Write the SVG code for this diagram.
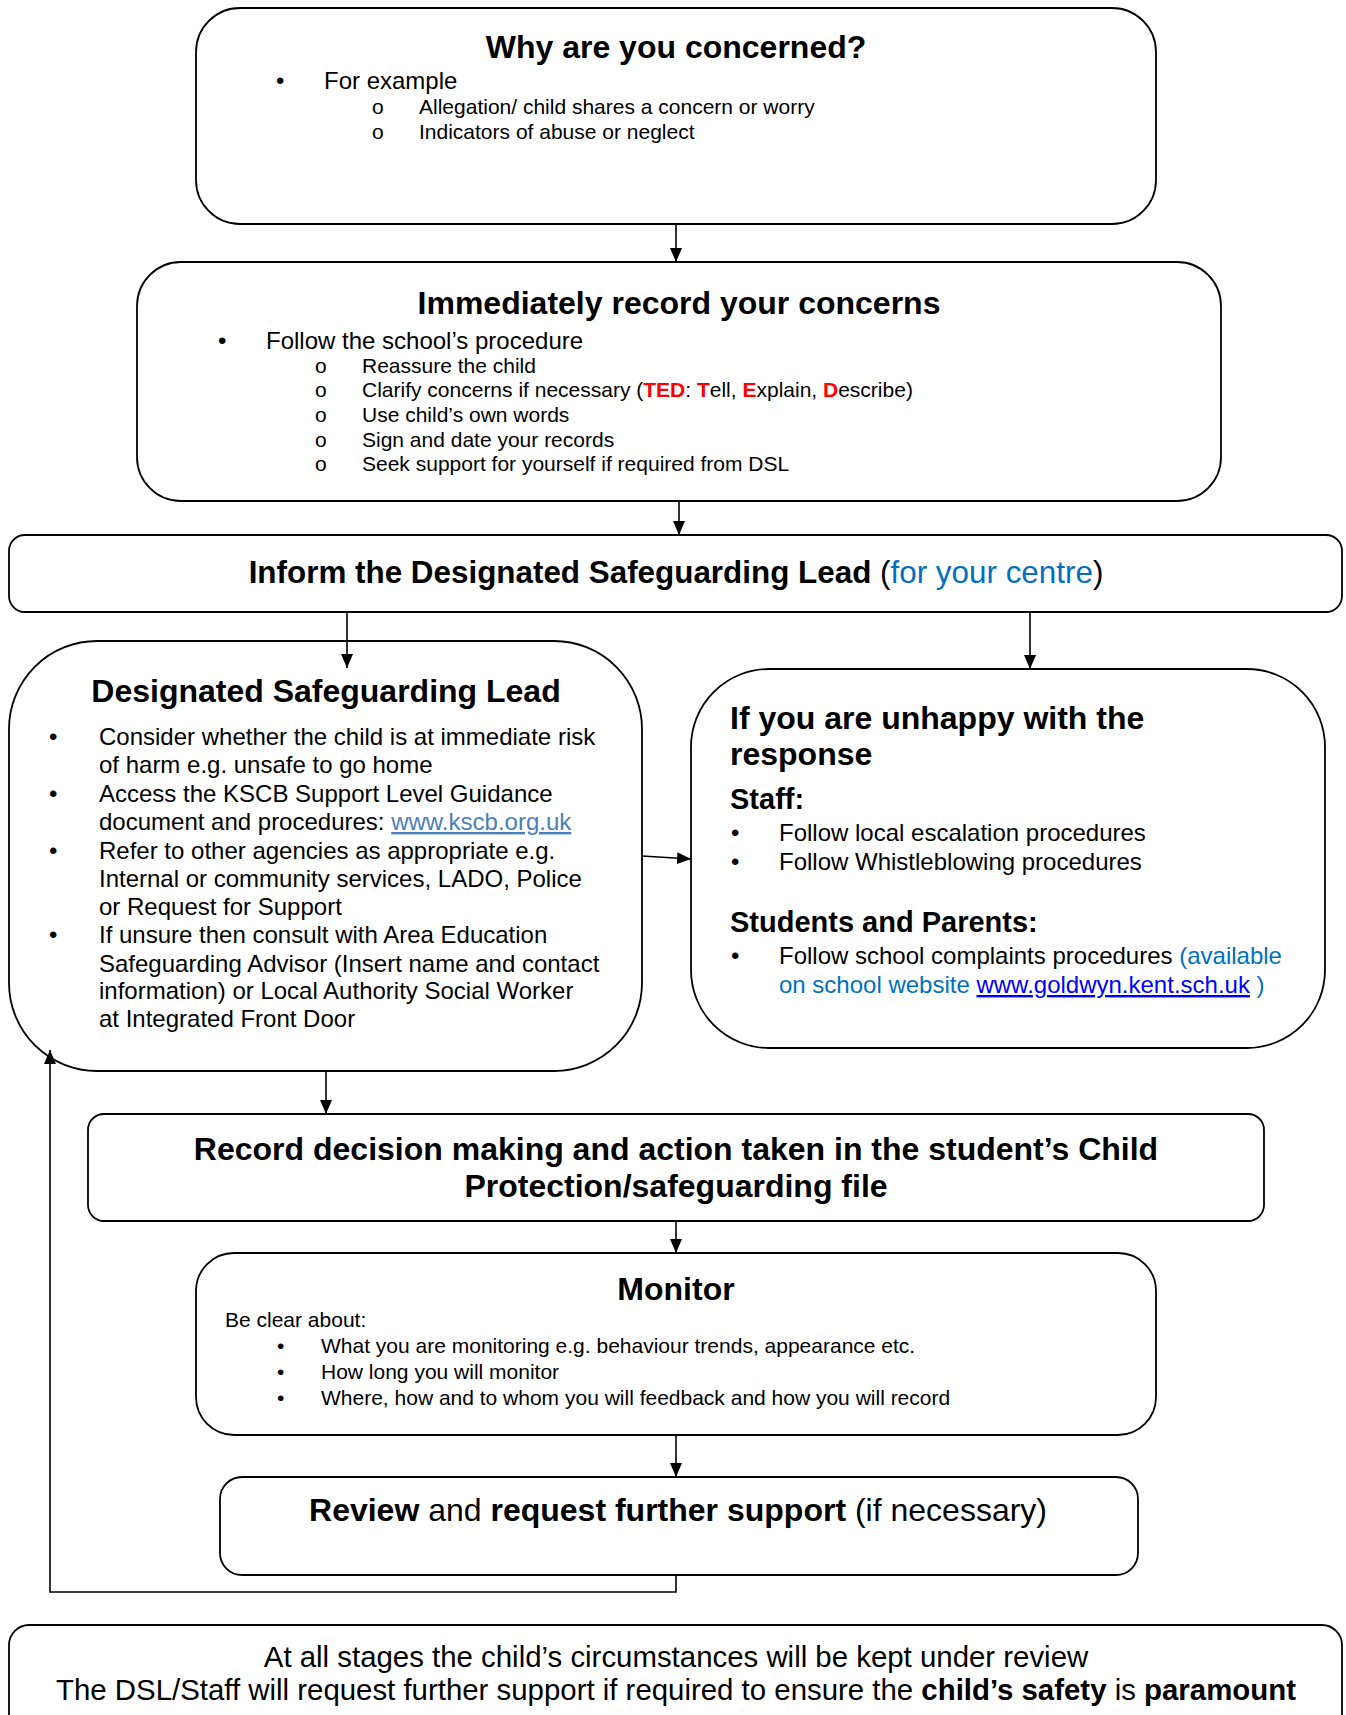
<svg xmlns="http://www.w3.org/2000/svg" width="1346" height="1715" viewBox="0 0 1346 1715">
<defs>
<marker id="ah" markerUnits="userSpaceOnUse" markerWidth="14" markerHeight="12" refX="14" refY="6" orient="auto">
<path d="M0,0 L14,6 L0,12 z" fill="#000"/>
</marker>
<style>
.box{fill:#fff;stroke:#000;stroke-width:1.8}
.c{fill:none;stroke:#000;stroke-width:1.6}
text{font-family:"Liberation Sans",Arial,sans-serif;fill:#000}
.h{font-size:32px;font-weight:bold}
.b{font-size:24px}
.s{font-size:21px}
.sh{font-size:29px;font-weight:bold}
.f{font-size:29.4px}
.bold{font-weight:bold}
.red{fill:#FF0000;font-weight:bold}
.blue{fill:#0070C0}
.lk{fill:#4A7EBB;text-decoration:underline}
.lk2{fill:#0000FF;text-decoration:underline}
.mid{text-anchor:middle}
</style>
</defs>

<g id="why">
<rect class="box" x="196" y="8" width="960" height="216" rx="44"/>
<text class="h mid" x="676" y="58">Why are you concerned?</text>
<text class="b" x="276" y="89">•</text>
<text class="b" x="324" y="89">For example</text>
<text class="s" x="372" y="114">o</text>
<text class="s" x="419" y="114">Allegation/ child shares a concern or worry</text>
<text class="s" x="372" y="139">o</text>
<text class="s" x="419" y="139">Indicators of abuse or neglect</text>
</g>

<g id="record">
<rect class="box" x="137" y="262" width="1084" height="239" rx="44"/>
<text class="h mid" x="679" y="314">Immediately record your concerns</text>
<text class="b" x="218" y="349">•</text>
<text class="b" x="266" y="349">Follow the school’s procedure</text>
<text class="s" x="315" y="373">o</text>
<text class="s" x="362" y="373">Reassure the child</text>
<text class="s" x="315" y="397">o</text>
<text class="s" x="362" y="397">Clarify concerns if necessary (<tspan class="red">TED</tspan>: <tspan class="red">T</tspan>ell, <tspan class="red">E</tspan>xplain, <tspan class="red">D</tspan>escribe)</text>
<text class="s" x="315" y="422">o</text>
<text class="s" x="362" y="422">Use child’s own words</text>
<text class="s" x="315" y="447">o</text>
<text class="s" x="362" y="447">Sign and date your records</text>
<text class="s" x="315" y="471">o</text>
<text class="s" x="362" y="471">Seek support for yourself if required from DSL</text>
</g>

<g id="inform">
<rect class="box" x="9" y="535" width="1333" height="77" rx="16"/>
<text class="h mid" x="676" y="583" style="font-size:31.4px">Inform the Designated Safeguarding Lead<tspan font-weight="normal"> (</tspan><tspan font-weight="normal" class="blue">for your centre</tspan><tspan font-weight="normal">)</tspan></text>
</g>

<g id="dsl">
<rect class="box" x="9" y="641" width="633" height="430" rx="88"/>
<text class="h mid" x="326" y="702">Designated Safeguarding Lead</text>
<text class="b" x="49" y="745">•</text>
<text class="b" x="99" y="745">Consider whether the child is at immediate risk</text>
<text class="b" x="99" y="773">of harm e.g. unsafe to go home</text>
<text class="b" x="49" y="802">•</text>
<text class="b" x="99" y="802">Access the KSCB Support Level Guidance</text>
<text class="b" x="99" y="830">document and procedures: <tspan class="lk">www.kscb.org.uk</tspan></text>
<text class="b" x="49" y="859">•</text>
<text class="b" x="99" y="859">Refer to other agencies as appropriate e.g.</text>
<text class="b" x="99" y="887">Internal or community services, LADO, Police</text>
<text class="b" x="99" y="915">or Request for Support</text>
<text class="b" x="49" y="943">•</text>
<text class="b" x="99" y="943">If unsure then consult with Area Education</text>
<text class="b" x="99" y="972">Safeguarding Advisor (Insert name and contact</text>
<text class="b" x="99" y="999">information) or Local Authority Social Worker</text>
<text class="b" x="99" y="1027">at Integrated Front Door</text>
</g>

<g id="unhappy">
<rect class="box" x="691" y="669" width="634" height="379" rx="78"/>
<text class="h" x="730" y="729">If you are unhappy with the</text>
<text class="h" x="730" y="765">response</text>
<text class="sh" x="730" y="809">Staff:</text>
<text class="b" x="731" y="841">•</text>
<text class="b" x="779" y="841">Follow local escalation procedures</text>
<text class="b" x="731" y="870">•</text>
<text class="b" x="779" y="870">Follow Whistleblowing procedures</text>
<text class="sh" x="730" y="932">Students and Parents:</text>
<text class="b" x="731" y="964">•</text>
<text class="b" x="779" y="964">Follow school complaints procedures <tspan class="blue">(available</tspan></text>
<text class="b blue" x="779" y="993">on school website <tspan class="lk2">www.goldwyn.kent.sch.uk</tspan> )</text>
</g>

<g id="decision">
<rect class="box" x="88" y="1114" width="1176" height="107" rx="16"/>
<text class="h mid" x="676" y="1160">Record decision making and action taken in the student’s Child</text>
<text class="h mid" x="676" y="1197">Protection/safeguarding file</text>
</g>

<g id="monitor">
<rect class="box" x="196" y="1253" width="960" height="182" rx="38"/>
<text class="h mid" x="676" y="1300">Monitor</text>
<text class="s" x="225" y="1327">Be clear about:</text>
<text class="s" x="277" y="1353">•</text>
<text class="s" x="321" y="1353">What you are monitoring e.g. behaviour trends, appearance etc.</text>
<text class="s" x="277" y="1379">•</text>
<text class="s" x="321" y="1379">How long you will monitor</text>
<text class="s" x="277" y="1405">•</text>
<text class="s" x="321" y="1405">Where, how and to whom you will feedback and how you will record</text>
</g>

<g id="review">
<rect class="box" x="220" y="1477" width="918" height="98" rx="22"/>
<text class="h mid" x="678" y="1521">Review<tspan font-weight="normal"> and </tspan>request further support<tspan font-weight="normal"> (if necessary)</tspan></text>
</g>

<g id="stages">
<rect class="box" x="9" y="1625" width="1333" height="130" rx="20"/>
<text class="f mid" x="676" y="1667">At all stages the child’s circumstances will be kept under review</text>
<text class="f mid" x="676" y="1700">The DSL/Staff will request further support if required to ensure the <tspan class="bold">child’s safety</tspan> is <tspan class="bold">paramount</tspan></text>
</g>

<g id="connectors">
<line class="c" x1="676" y1="224" x2="676" y2="262" marker-end="url(#ah)"/>
<line class="c" x1="679" y1="501" x2="679" y2="535" marker-end="url(#ah)"/>
<line class="c" x1="347" y1="612" x2="347" y2="668" marker-end="url(#ah)"/>
<line class="c" x1="1030" y1="612" x2="1030" y2="669" marker-end="url(#ah)"/>
<line class="c" x1="642" y1="856" x2="691" y2="859" marker-end="url(#ah)"/>
<line class="c" x1="326" y1="1071" x2="326" y2="1114" marker-end="url(#ah)"/>
<line class="c" x1="676" y1="1221" x2="676" y2="1253" marker-end="url(#ah)"/>
<line class="c" x1="676" y1="1435" x2="676" y2="1477" marker-end="url(#ah)"/>
<polyline class="c" points="676,1575 676,1592 50,1592 50,1050" marker-end="url(#ah)"/>
</g>
</svg>
